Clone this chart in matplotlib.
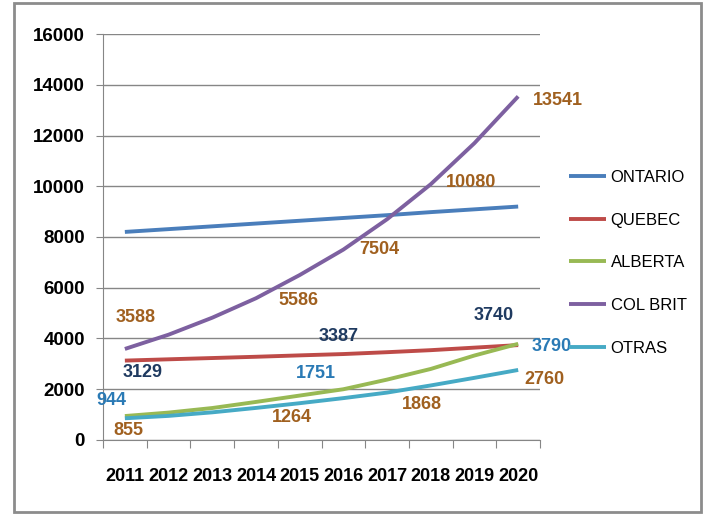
import numpy as np
import matplotlib
matplotlib.use("Agg")
import matplotlib.pyplot as plt
from matplotlib.patches import Rectangle

plt.rcParams['font.family'] = ['Liberation Sans', 'DejaVu Sans']

# años y series por provincia
years = [2011, 2012, 2013, 2014, 2015, 2016, 2017, 2018, 2019, 2020]
ontario = [8200, 8310, 8420, 8530, 8640, 8750, 8860, 8980, 9090, 9200]
quebec = [3129, 3180, 3230, 3280, 3335, 3387, 3460, 3540, 3640, 3740]
alberta = [944, 1080, 1260, 1500, 1751, 2000, 2380, 2800, 3330, 3790]
col_brit = [3588, 4150, 4820, 5586, 6500, 7504, 8700, 10080, 11700, 13541]
otras = [855, 950, 1090, 1264, 1450, 1650, 1868, 2150, 2450, 2760]

names = ["ONTARIO", "QUEBEC", "ALBERTA", "COL BRIT", "OTRAS"]
colors = ["#4a7ebb", "#be4b48", "#98b954", "#7d60a0", "#46aac5"]

# etiquetas: (serie, año, color, desplazamiento en px)
brown = "#a0601f"
navy = "#1f3a60"
blue = "#2a7ab5"
labels = [
    (col_brit, 2011, brown, (11, 31)),
    (col_brit, 2014, brown, (42, -2)),
    (col_brit, 2016, brown, (36, 0)),
    (col_brit, 2018, brown, (40, 2)),
    (col_brit, 2020, brown, (40, -4)),
    (quebec, 2011, navy, (18, -12)),
    (quebec, 2016, navy, (-5, 18)),
    (quebec, 2020, navy, (-24, 30)),
    (alberta, 2011, blue, (-13, 16)),
    (alberta, 2015, blue, (16, 22)),
    (alberta, 2020, blue, (34, -3)),
    (otras, 2011, brown, (4, -12)),
    (otras, 2014, brown, (36, -10)),
    (otras, 2017, brown, (35, -12)),
    (otras, 2020, brown, (26, -10)),
]

fig = plt.figure(figsize=(7.1, 5.16), dpi=100)
ax = fig.add_axes([0.1451, 0.1473, 0.6155, 0.7868])

series = [ontario, quebec, alberta, col_brit, otras]
for vals, name, c in zip(series, names, colors):
    ax.plot(years, vals, color=c, lw=2.8, label=name, solid_capstyle='butt')

for vals, yr, c, off in labels:
    v = vals[years.index(yr)]
    ax.annotate(str(v), (yr, v), xytext=off, textcoords='offset pixels',
                ha='center', va='center', color=c, fontsize=13, fontweight='bold')

ax.set_xlim(2010.5, 2020.5)
ax.set_ylim(0, 16000)
ax.set_yticks(np.arange(0, 16001, 2000))
ax.yaxis.grid(True, color='#868686', lw=1)
ax.set_axisbelow(True)

# marcas en los bordes de categoría, textos en el centro
ax.set_xticks(np.arange(2010.5, 2021, 1))
ax.set_xticklabels([])
ax.set_xticks(years, minor=True)
ax.set_xticklabels([str(y) for y in years], minor=True)
ax.tick_params(axis='x', which='major', length=6, color='#868686')
ax.tick_params(axis='x', which='minor', length=0, pad=20, labelsize=13)
ax.tick_params(axis='y', length=5, color='#868686', pad=8, labelsize=13.5)
for lbl in ax.get_xticklabels(minor=True) + ax.get_yticklabels():
    lbl.set_fontweight('bold')

for s in ['top', 'right']:
    ax.spines[s].set_visible(False)
for s in ['left', 'bottom']:
    ax.spines[s].set_color('#868686')

leg = ax.legend(loc='upper left', bbox_to_anchor=(569 / 710, 1 - 170 / 516),
                bbox_transform=fig.transFigure, frameon=False, fontsize=12,
                handlelength=2.2, handletextpad=0.3, labelspacing=1.66,
                borderpad=0, borderaxespad=0)
for line in leg.get_lines():
    line.set_linewidth(2.8)

# marco exterior del gráfico
fig.patches.append(Rectangle((14 / 710, 4 / 516), 687 / 710, 509 / 516,
                             transform=fig.transFigure, fill=False,
                             edgecolor='#8c8c8c', lw=2))

fig.savefig("out.png", dpi=100)
